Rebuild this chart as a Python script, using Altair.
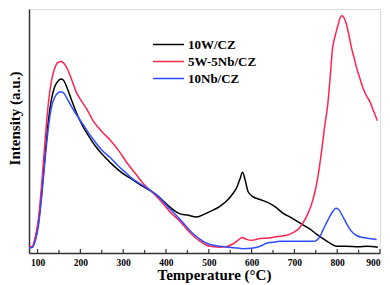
import altair as alt
import pandas as pd

# Temperature (°C) and intensity (arbitrary units)
w_x = [80, 88, 95, 102, 110, 118, 125, 132, 140, 148, 155, 160, 168, 178, 190, 205, 220, 235, 250, 270,
       290, 305, 320, 340, 360, 380, 395, 410, 425, 435, 450, 472, 490, 505, 526, 545, 556, 565, 572, 579,
       585, 592, 603, 620, 642, 660, 673, 690, 705, 720, 735, 750, 766, 780, 798, 820, 850, 870, 895]
w_y = [6, 6, 15, 31, 63, 103, 135, 157, 171, 177, 179, 178, 171, 159, 145, 131, 120, 110, 102, 93,
       85, 80, 76, 70, 65, 59, 53, 47, 42, 40, 39, 37, 40, 43, 48, 55, 61, 67, 75, 83,
       75, 63, 58, 55, 51, 46, 41, 37, 33, 29, 25, 20, 15, 11, 7, 7, 6.5, 7, 6]

wnb_x = [80, 88, 95, 102, 110, 118, 125, 132, 140, 148, 155, 162, 170, 180, 190, 200, 215, 230, 250, 270,
         290, 310, 330, 350, 362, 380, 395, 410, 432, 450, 463, 480, 495, 510, 526, 540, 555, 568, 578, 588,
         600, 620, 640, 660, 680, 697, 710, 720, 730, 740, 748, 754, 763, 770, 778, 784, 789, 795, 801, 806,
         811, 816, 821, 828, 834, 840, 845, 852, 860, 868, 876, 885, 894]
wnb_y = [6, 7, 17, 35, 73, 118, 153, 176, 190, 196, 197, 195, 189, 178, 166, 158, 148, 136, 125, 116,
         105, 92, 81, 70, 65, 57, 50, 42, 33, 24, 18, 12, 8, 6.5, 6, 6.5, 9, 13, 16, 14,
         13, 15, 15.5, 17, 18, 21, 25, 31, 39, 50, 63, 76, 103, 128, 153, 183, 210, 223, 233, 241,
         244, 242, 236, 223, 210, 200, 191, 181, 170, 162, 156, 146, 136]

nb_x = [80, 88, 95, 102, 110, 118, 125, 132, 140, 148, 155, 162, 170, 180, 190, 205, 220, 235, 250, 270,
        290, 305, 320, 340, 362, 380, 393, 410, 432, 450, 463, 480, 495, 510, 526, 545, 560, 580, 600, 620,
        635, 650, 666, 700, 728, 745, 752, 760, 766, 775, 782, 790, 797, 803, 810, 821, 832, 845, 860, 875, 892]
nb_y = [5, 6, 13, 28, 60, 98, 128, 149, 160, 165, 166, 164, 158, 150, 143, 133, 123, 114, 106, 98,
        89, 83, 77, 71, 65, 59, 53, 45, 35, 26, 20, 14, 10, 8, 7, 6, 5.5, 4.5, 5, 7,
        10, 11, 12, 12, 12, 12, 13, 17, 23, 31, 37, 43, 46, 45, 40, 31, 23, 18, 16, 15, 14]

series = ["10W/CZ", "5W-5Nb/CZ", "10Nb/CZ"]
colors = ["#000000", "#ff2450", "#2f4dff"]
major_ticks = [100, 200, 300, 400, 500, 600, 700, 800, 900]
minor_ticks = [150, 250, 350, 450, 550, 650, 750, 850]

rows = []
for name, xs, ys in [(series[0], w_x, w_y), (series[1], wnb_x, wnb_y), (series[2], nb_x, nb_y)]:
    for xv, yv in zip(xs, ys):
        rows.append({"T": xv, "I": yv, "s": name})
df = pd.DataFrame(rows)

W, H = 351, 244
FONT = "Liberation Serif"

xscale = alt.Scale(domain=[80, 900], nice=False, zero=False)
yscale = alt.Scale(domain=[0, 251], nice=False, zero=False)

lines = alt.Chart(df).mark_line(strokeWidth=1.5, interpolate="monotone").encode(
    x=alt.X("T:Q", scale=xscale,
            axis=alt.Axis(values=major_ticks, ticks=False, grid=False, labelPadding=4,
                          labelFont=FONT, labelFontWeight="bold", labelFontSize=9.5,
                          labelColor="#000", domainColor="#333", domainWidth=1.5,
                          title="Temperature (°C)", titleFont=FONT, titleFontSize=15,
                          titleFontWeight="bold", titleColor="#000",
                          titleBaseline="alphabetic", titleY=26, titleX=185)),
    y=alt.Y("I:Q", scale=yscale,
            axis=alt.Axis(ticks=False, labels=False, grid=False, domainColor="#333", domainWidth=1.5,
                          title="Intensity (a.u.)", titleFont=FONT, titleFontSize=15,
                          titleFontWeight="bold", titleColor="#000",
                          titleBaseline="alphabetic", titleX=-10, titleY=109)),
    color=alt.Color("s:N", sort=series,
                    scale=alt.Scale(domain=series, range=colors),
                    legend=alt.Legend(title=None, orient="none", legendX=123, legendY=28,
                                      symbolType="stroke", symbolSize=961, symbolStrokeWidth=1.5,
                                      clipHeight=15, rowPadding=2,
                                      labelFont=FONT, labelFontSize=13, labelFontWeight="bold",
                                      labelColor="#000", labelOffset=3, padding=0)),
)

tick_major = alt.Chart(pd.DataFrame({"t": major_ticks})).mark_rule(color="#333", strokeWidth=1.2).encode(
    x=alt.X("t:Q", scale=xscale), y=alt.value(H), y2=alt.value(H - 4))
tick_minor = alt.Chart(pd.DataFrame({"t": minor_ticks})).mark_rule(color="#333", strokeWidth=1.2).encode(
    x=alt.X("t:Q", scale=xscale), y=alt.value(H), y2=alt.value(H - 3))

chart = alt.layer(tick_major, tick_minor, lines).properties(
    width=W, height=H,
    autosize=alt.AutoSizeParams(type="none"),
    padding={"left": 21, "top": 1, "right": 2, "bottom": 30},
).configure_view(stroke="#333", strokeWidth=1.5).configure(background="white")

chart.save("out.html", embed_options={"renderer": "svg", "actions": False})
